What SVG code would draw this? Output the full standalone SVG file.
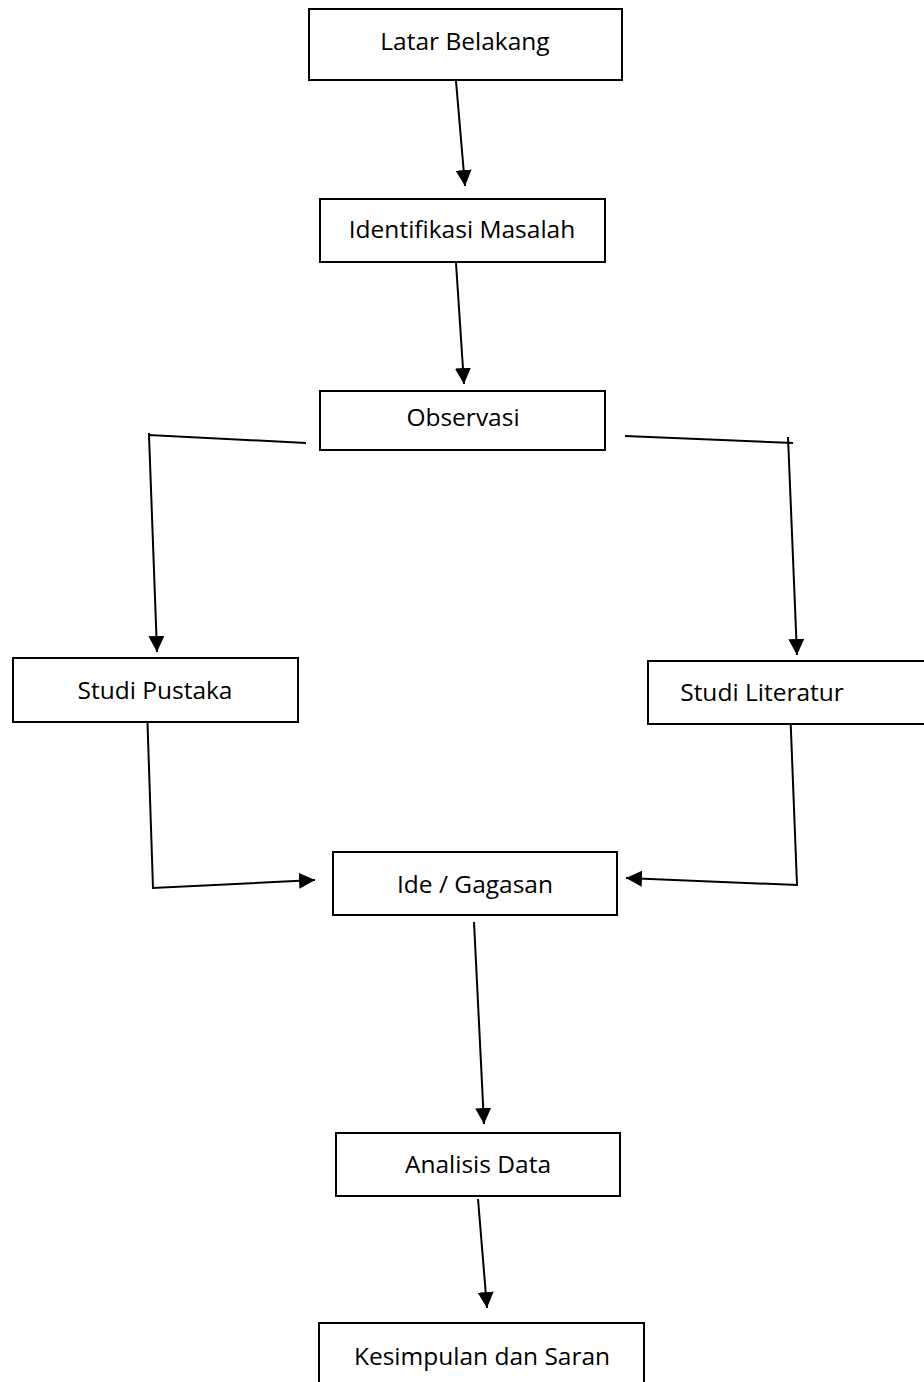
<svg xmlns="http://www.w3.org/2000/svg" width="924" height="1382" viewBox="0 0 924 1382">
<style>
.box{fill:#fff;stroke:#000;stroke-width:2}
.lbl{font-family:"Open Sans","Liberation Sans",Arial,sans-serif;font-size:24.5px;fill:#000;text-anchor:middle}
.ln{fill:none;stroke:#000;stroke-width:2}
</style>
<defs>
<marker id="ah" viewBox="0 0 10 10" refX="10" refY="5" markerWidth="8" markerHeight="8" markerUnits="strokeWidth" orient="auto">
<path d="M0,0 L10,5 L0,10 z" fill="#000"/>
</marker>
</defs>
<rect width="924" height="1382" fill="#fff"/>
<g id="connectors">
<line class="ln" x1="456" y1="81" x2="465" y2="186" marker-end="url(#ah)"/>
<line class="ln" x1="456" y1="263" x2="464" y2="384" marker-end="url(#ah)"/>
<polyline class="ln" points="306,443 149,435 157,652" marker-end="url(#ah)"/>
<line class="ln" x1="149" y1="433" x2="149" y2="440"/>
<polyline class="ln" points="625,436 793,443"/>
<line class="ln" x1="788" y1="437" x2="797" y2="655" marker-end="url(#ah)"/>
<polyline class="ln" points="147,708 153,888 315,880" marker-end="url(#ah)"/>
<polyline class="ln" points="790,706 797,885 626,878" marker-end="url(#ah)"/>
<line class="ln" x1="474" y1="922" x2="484" y2="1124" marker-end="url(#ah)"/>
<line class="ln" x1="478" y1="1199" x2="487" y2="1308" marker-end="url(#ah)"/>
</g>
<g id="n1"><rect class="box" x="309" y="9" width="313" height="71"/><text class="lbl" x="465" y="50">Latar Belakang</text></g>
<g id="n2"><rect class="box" x="320" y="199" width="285" height="63"/><text class="lbl" x="462" y="238">Identifikasi Masalah</text></g>
<g id="n3"><rect class="box" x="320" y="391" width="285" height="59"/><text class="lbl" x="463" y="426">Observasi</text></g>
<g id="n4"><rect class="box" x="13" y="658" width="285" height="64"/><text class="lbl" x="155" y="699">Studi Pustaka</text></g>
<g id="n5"><rect class="box" x="648" y="661" width="280" height="63"/><text class="lbl" x="762" y="701">Studi Literatur</text></g>
<g id="n6"><rect class="box" x="333" y="852" width="284" height="63"/><text class="lbl" x="475" y="893">Ide / Gagasan</text></g>
<g id="n7"><rect class="box" x="336" y="1133" width="284" height="63"/><text class="lbl" x="478" y="1173">Analisis Data</text></g>
<g id="n8"><rect class="box" x="319" y="1323" width="325" height="70"/><text class="lbl" x="482" y="1365">Kesimpulan dan Saran</text></g>
</svg>
